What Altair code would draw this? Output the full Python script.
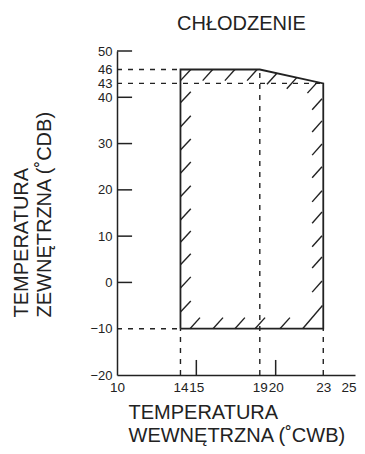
import altair as alt
import pandas as pd

# Operating envelope (indoor WB vs outdoor DB)
box_x = [14, 14, 19, 23, 23, 14]
box_y = [-10, 46, 46, 43, -10, -10]

# Dashed reference lines
guide_x1 = [10, 10, 10, 14, 19, 23]
guide_y1 = [46, 43, -10, -20, -20, -20]
guide_x2 = [14, 23, 14, 14, 19, 23]
guide_y2 = [46, 43, -10, -10, 46, -10]

# Hatch strokes along the inside of the envelope
hatch_x1 = [14, 14, 14, 14, 14, 14, 14, 14, 14, 14, 14,
            15.4, 16.8, 18.2, 19.45, 20.7, 22.0,
            22.3, 22.3, 22.3, 22.3, 22.3, 22.3, 22.3, 22.3, 22.3,
            14.6, 16.05, 17.43, 18.7, 20.27, 21.7]
hatch_y1 = [-6.4, -1.2, 3.8, 8.7, 13.5, 18.5, 23.6, 28.6, 33.6, 38.8, 43.6,
            43.6, 43.6, 43.6, 42.8, 41.85, 40.9,
            -2.1, 3.1, 7.7, 12.8, 17.4, 22.6, 27.5, 32.5, 37.3,
            -10, -10, -10, -10, -10, -10]
hatch_x2 = [14.65, 14.65, 14.65, 14.65, 14.65, 14.65, 14.65, 14.65, 14.65, 14.65, 14.65,
            16.03, 17.43, 18.83, 20.08, 21.33, 22.63,
            22.92, 22.92, 22.92, 22.92, 22.92, 22.92, 22.92, 22.92, 22.92,
            15.23, 16.68, 18.06, 19.33, 20.9, 22.95]
hatch_y2 = [-4.0, 1.2, 6.2, 11.1, 15.9, 20.9, 26.0, 31.0, 36.0, 41.2, 46.0,
            46.0, 46.0, 46.0, 45.19, 44.25, 43.28,
            0.3, 5.5, 10.1, 15.2, 19.8, 25.0, 29.9, 34.9, 39.7,
            -7.6, -7.6, -7.6, -7.6, -7.6, -5.0]

# Axis ticks (drawn inward)
ytick_vals = [50, 40, 30, 20, 10, 0]
xtick_vals = [15, 20]
y_labels = [50, 46, 43, 40, 30, 20, 10, 0, -10, -20]
x_labels = [10, 14, 15, 19, 20, 23, 25]

INK = "#222222"
FONT = "Liberation Sans"

box_df = pd.DataFrame({"x": box_x, "y": box_y, "o": list(range(len(box_x)))})
guide_df = pd.DataFrame({"x": guide_x1, "y": guide_y1, "x2": guide_x2, "y2": guide_y2})
hatch_df = pd.DataFrame({"x": hatch_x1, "y": hatch_y1, "x2": hatch_x2, "y2": hatch_y2})
ytick_df = pd.DataFrame({"x": [10] * len(ytick_vals), "x2": [10.95] * len(ytick_vals), "y": ytick_vals})
xtick_df = pd.DataFrame({"x": xtick_vals, "y": [-20] * len(xtick_vals), "y2": [-16.75] * len(xtick_vals)})

x_axis = alt.Axis(
    values=x_labels, ticks=False, grid=False, labelOverlap=False,
    labelFontSize=13.5, labelPadding=5, labelColor=INK, labelFont=FONT,
    labelAlign={"condition": {"test": "datum.value == 25", "value": "right"}, "value": "center"},
    labelOffset={"condition": {"test": "datum.value == 25", "value": 1}, "value": 0},
    domainColor=INK, domainWidth=1.5, labelFlush=False,
    title=["TEMPERATURA", "WEWNĘTRZNA (˚CWB)"], titleFont=FONT, titleFontSize=20,
    titleFontWeight="normal", titleColor=INK, titleAlign="left", titleBaseline="alphabetic",
    titleX=11, titleY=43, titleLineHeight=23, titleAnchor="start",
)
y_axis = alt.Axis(
    values=y_labels, ticks=False, grid=False, labelOverlap=False,
    labelFontSize=13, labelPadding=5, labelColor=INK, labelFont=FONT,
    domainColor=INK, domainWidth=1.5, labelFlush=False,
    title=["TEMPERATURA", "ZEWNĘTRZNA (˚CDB)"], titleFont=FONT, titleFontSize=20,
    titleFontWeight="normal", titleColor=INK, titleAlign="left", titleBaseline="alphabetic",
    titleAngle=270, titleX=-90, titleY=266, titleLineHeight=23, titleAnchor="start",
)
xs = alt.Scale(domain=[10, 25], nice=False, zero=False)
ys = alt.Scale(domain=[-20, 50], nice=False, zero=False)

X = alt.X("x:Q", scale=xs, axis=x_axis)
Y = alt.Y("y:Q", scale=ys, axis=y_axis)

guides = alt.Chart(guide_df).mark_rule(color=INK, strokeWidth=1.4, strokeDash=[5, 6]).encode(
    x=X, y=Y, x2="x2:Q", y2="y2:Q")
box = alt.Chart(box_df).mark_line(color=INK, strokeWidth=1.8).encode(x=X, y=Y, order="o:Q")
hatches = alt.Chart(hatch_df).mark_rule(color=INK, strokeWidth=1.4).encode(
    x=X, y=Y, x2="x2:Q", y2="y2:Q")
yticks = alt.Chart(ytick_df).mark_rule(color=INK, strokeWidth=1.5).encode(x=X, x2="x2:Q", y=Y)
xticks = alt.Chart(xtick_df).mark_rule(color=INK, strokeWidth=1.5).encode(x=X, y=Y, y2="y2:Q")

chart = alt.layer(guides, box, hatches, yticks, xticks).properties(
    width=238, height=324,
    autosize=alt.AutoSizeParams(type="none"),
    padding={"left": 109, "top": 43, "right": 2, "bottom": 71},
    title=alt.TitleParams(text="CHŁODZENIE", anchor="start", frame="group", dx=60, dy=-7,
                          fontSize=20, fontWeight="normal", font=FONT, color=INK),
).configure_view(stroke=None)

chart.save("out.html", embed_options={"renderer": "svg", "actions": False})
